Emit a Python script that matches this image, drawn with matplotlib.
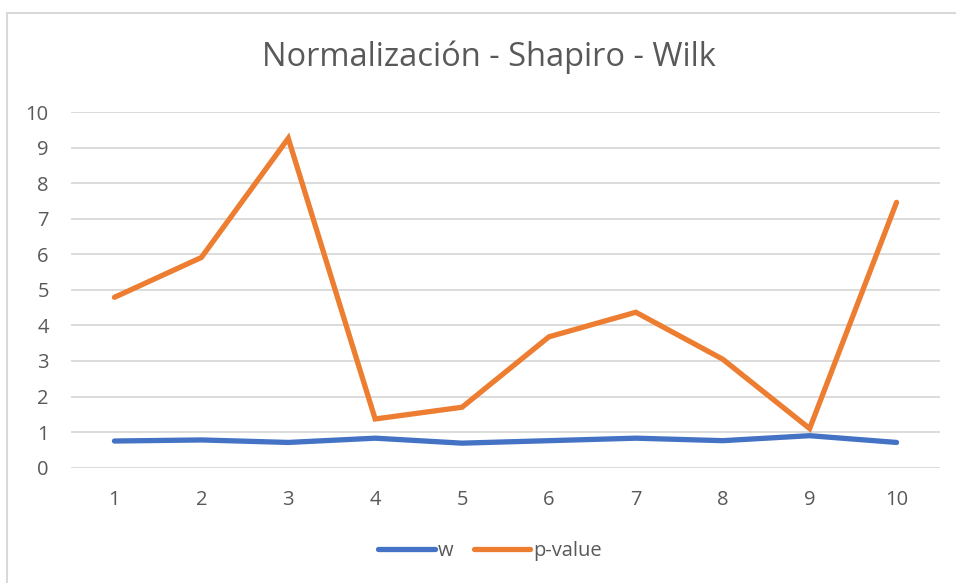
import matplotlib
matplotlib.use("Agg")
import matplotlib.pyplot as plt
from matplotlib.lines import Line2D

categories = [1, 2, 3, 4, 5, 6, 7, 8, 9, 10]
w_values = [0.75, 0.78, 0.71, 0.83, 0.69, 0.76, 0.83, 0.76, 0.90, 0.71]
p_values = [4.79, 5.91, 9.26, 1.37, 1.70, 3.68, 4.37, 3.05, 1.10, 7.46]
y_ticks = [0, 1, 2, 3, 4, 5, 6, 7, 8, 9, 10]

plt.rcParams['font.family'] = ['Open Sans', 'DejaVu Sans']
text_color = '#595959'

fig = plt.figure(figsize=(9.56, 5.83), dpi=100)
ax = fig.add_axes([71 / 956, 1 - 467.7 / 583, (940 - 71) / 956, (467.7 - 112) / 583])

for y in y_ticks:
    ax.axhline(y, color='#D9D9D9', lw=1.3, zorder=0)

ax.plot(categories, w_values, color='#4472C4', lw=3.8, solid_capstyle='round',
        solid_joinstyle='round', label='w', zorder=3)
ax.plot(categories, p_values, color='#ED7D31', lw=3.8, solid_capstyle='round',
        solid_joinstyle='miter', label='p-value', zorder=3)

ax.set_xlim(0.5, 10.5)
ax.set_ylim(0, 10)
ax.set_yticks(y_ticks)
ax.set_xticks(categories)
ax.set_xticklabels([str(c) for c in categories])
for s in ax.spines.values():
    s.set_visible(False)
ax.tick_params(axis='both', length=0, labelsize=14.5, colors=text_color)
ax.tick_params(axis='y', pad=16)
ax.tick_params(axis='x', pad=16)

fig.text(489 / 956, 1 - 57 / 583, 'Normalización - Shapiro - Wilk', ha='center', va='center',
         fontsize=23.5, color=text_color)

handles = [Line2D([0], [0], color='#4472C4', lw=3.8, solid_capstyle='round'),
           Line2D([0], [0], color='#ED7D31', lw=3.8, solid_capstyle='round')]
leg = fig.legend(handles, ['w', 'p-value'], loc='center', bbox_to_anchor=(490 / 956, 1 - 551 / 583),
                 ncol=2, frameon=False, fontsize=14.5, handlelength=2.8, handletextpad=0.15,
                 columnspacing=1.0)
for t in leg.get_texts():
    t.set_color(text_color)

# chart border (top and left visible)
fig.add_artist(Line2D([7 / 956, 1.0], [1 - 13 / 583, 1 - 13 / 583], transform=fig.transFigure,
                      color='#D9D9D9', lw=1.5))
fig.add_artist(Line2D([7 / 956, 7 / 956], [1 - 13 / 583, 0], transform=fig.transFigure,
                      color='#D9D9D9', lw=1.5))

fig.savefig('out.png', dpi=100)
